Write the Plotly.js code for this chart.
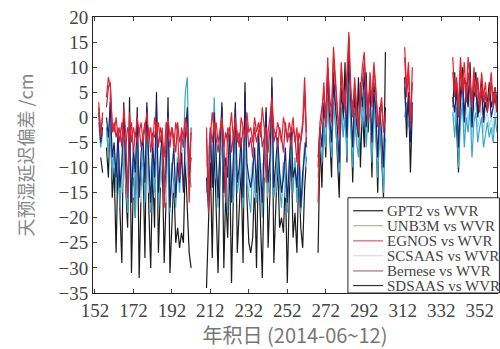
<!DOCTYPE html>
<html><head><meta charset="utf-8">
<script src="https://cdn.plot.ly/plotly-3.0.1.min.js"></script>
<style>html,body{margin:0;padding:0;background:#fff;}#c{width:500px;height:349px;}</style>
</head><body><div id="c"></div>
<script>
// Day of year sampling (null rows mark gaps in the record)
const days = [154,155,156,157,
158,159,160,161,162,163,164,165,166,167,168,169,170,171,172,173,174,175,176,177,178,179,180,
181,182,183,184,185,186,187,188,189,190,191,192,193,194,195,196,197,198,199,200,201,202,
203,204,205,206,207,208,209,
210,211,212,213,214,215,216,217,218,219,220,221,222,223,224,225,226,227,228,229,230,231,232,233,234,235,236,
237,238,239,240,241,242,243,244,245,246,247,248,249,250,251,252,253,254,255,256,257,258,259,260,261,262,
263,264,265,266,267,
268,269,270,271,272,273,274,275,276,277,278,279,280,281,282,283,284,285,286,287,288,289,290,291,292,293,294,
295,296,297,298,299,300,301,302,303,
304,305,306,307,308,309,310,311,312,
313,314,315,316,317,
318,319,320,321,322,323,324,325,326,327,328,329,330,331,332,333,334,335,336,337,
338,339,340,341,342,343,344,345,346,347,348,349,350,351,352,353,354,355,356,357,358,359,360,361];

const gpt2 = [null,-8,-11,null,
-6,-12,2,-16,-10,-27,-8,-18,-29,3,-14,-22,4,-31,-12,-20,2,-32,-15,-9,-28,3,-18,
-30,-10,-22,5,-27,-14,-8,-29,-16,4,-31,-20,-12,-25,-22,-26,-23,-25,-8,-18,-27,-30,
null,null,null,null,null,null,null,
-34,-20,-9,-28,-5,-18,-31,-12,2,-30,-15,-24,-8,-33,-14,3,-27,-19,-10,-29,7,-16,-25,-27,-24,-13,-30,
-8,-21,-32,-11,2,-26,-15,8,-29,-18,-9,-22,-20,-23,-12,-33,-16,-6,-24,-19,-27,-10,-22,-26,-14,-8,
null,null,null,null,null,
-27,-5,-14,2,-8,10,-3,-12,9,0,-6,-16,5,-2,11,-9,16,1,-13,3,-4,8,-10,2,-6,9,-3,
4,-12,7,0,-15,2,-8,-16,13,
null,null,null,null,null,null,null,null,null,
8,-4,5,-11,2,
null,null,null,null,null,null,null,null,null,null,null,null,null,null,null,null,null,null,null,null,
2,9,-2,-11,5,10,-1,7,3,11,-3,6,9,1,4,8,-1,5,3,7,2,4,6,3];

const unb3m = [-1,-6,-3,null,
-2,-8,5,-12,-6,-15,-4,-18,-10,-2,-13,-19,-5,-14,-8,-20,-3,-16,-11,-6,-17,-1,-12,
-19,-7,-15,-2,-18,-10,-5,-16,-13,-3,-19,-9,-14,-18,-8,-15,-4,-6,5,8,-10,-14,
null,null,null,null,null,null,null,
-15,-8,-2,-12,4,-10,-18,-7,-1,-16,-11,-19,-5,-14,-17,-3,-15,-12,-6,-18,2,-13,-16,-19,-9,-14,-17,
-4,-12,-20,-7,-2,-15,-11,3,-16,-13,-6,-14,-18,-9,-12,-19,-10,-3,-15,-8,-17,-11,-19,-14,-5,-9,
null,null,null,null,null,
-12,-5,-9,-1,-6,4,-3,-8,3,-2,-7,-11,2,-4,0,-8,6,-1,-10,1,-5,-8,3,-2,5,-6,0,
2,-9,4,-3,-12,-1,-6,-15,-4,
null,null,null,null,null,null,null,null,null,
0,3,-2,1,-1,
null,null,null,null,null,null,null,null,null,null,null,null,null,null,null,null,null,null,null,null,
1,-4,2,-10,-1,3,-6,0,-3,2,-8,-1,1,-5,-2,0,-6,-3,-1,-4,-2,-5,0,-3];

const egnos = [3,-4,1,null,
4,8,6,-1,-3,0,-4,-2,-6,2,-3,-16,1,-5,-2,-4,0,-3,-1,-5,-2,1,-4,
-2,-6,0,-3,-1,-5,-2,-18,-3,0,-4,-2,-6,-1,-3,-12,-2,-4,0,-3,-17,-2,
null,null,null,null,null,null,null,
-2,-19,-4,1,-3,-1,-5,-2,0,-4,-17,-2,-3,1,-5,-1,-3,-6,0,-2,-4,1,-3,-2,-5,0,-3,
-1,-4,2,-2,-13,-3,0,4,-2,-4,-1,-3,-5,0,-2,-4,-1,-3,0,-5,-2,-10,-4,-1,8,-3,
null,null,null,null,null,
-17,-3,0,7,-2,12,2,-1,14,8,3,-4,11,5,1,9,17,6,0,8,2,-3,5,10,13,4,-1,
9,3,11,6,-2,1,4,-2,0,
null,null,null,null,null,null,null,null,null,
14,6,11,-1,10,
null,null,null,null,null,null,null,null,null,null,null,null,null,null,null,null,null,null,null,null,
12,5,8,2,12,6,11,4,12,7,3,10,5,8,2,9,4,7,1,5,9,3,6,1];

const scsaas = [0,-4,-2,null,
-3,-6,2,-10,-7,-13,-5,-11,-15,-4,-9,-14,-6,-12,-16,-8,-5,-13,-17,-9,-11,-4,-15,
-10,-8,-16,-5,-12,-14,-7,-10,-17,-6,-13,-9,-15,-11,-7,-14,-10,-5,-8,-12,-6,-11,
null,null,null,null,null,null,null,
-10,-6,-4,-9,-2,-12,-14,-8,-3,-13,-10,-15,-6,-12,-16,-5,-11,-14,-7,-13,-3,-10,-15,-12,-8,-16,-11,
-6,-14,-9,-12,-4,-16,-10,-2,-13,-15,-7,-11,-14,-9,-16,-12,-8,-5,-13,-10,-15,-7,-12,-14,-6,-10,
null,null,null,null,null,
-6,-3,-7,0,-4,5,-1,-6,4,0,-5,-8,3,-2,1,-6,8,0,-7,2,-3,-6,4,-1,6,-4,1,
3,-7,5,-2,-9,0,-4,-12,-2,
null,null,null,null,null,null,null,null,null,
3,1,-1,-3,2,
null,null,null,null,null,null,null,null,null,null,null,null,null,null,null,null,null,null,null,null,
3,-1,4,-7,1,5,-3,2,-1,4,-4,1,3,-2,0,2,-3,0,1,-2,0,-3,2,-1];

const bernese = [2,-3,0,null,
2,6,7,-3,-1,-4,-2,-5,-1,-3,-6,-2,-4,-1,-7,-3,-5,-2,-6,-3,-1,-5,-2,
-7,-3,-4,-1,-6,-2,-4,-8,-1,-3,-6,-2,-4,-7,-1,-5,-3,-6,-2,-4,-9,-3,
null,null,null,null,null,null,null,
-4,-15,-2,-5,-1,-4,-7,-3,-1,-6,-3,-5,-2,-7,-4,0,-5,-3,-6,-2,-4,-1,-6,-4,-8,-2,-5,
-3,-1,-6,-4,-2,-7,-3,2,-5,-3,-6,-2,-4,-7,-1,-5,-3,-6,-2,-4,-9,-3,-5,-2,5,-6,
null,null,null,null,null,
-10,-1,2,5,0,10,4,1,12,6,1,-2,9,3,4,7,14,5,2,6,0,-1,3,8,11,6,1,
7,2,10,4,0,-1,3,-3,1,
null,null,null,null,null,null,null,null,null,
12,4,9,-2,7,
null,null,null,null,null,null,null,null,null,null,null,null,null,null,null,null,null,null,null,null,
9,4,7,0,10,5,8,3,9,6,2,8,4,7,1,6,3,5,2,4,7,2,5,2];

const sdsaas = [1,-5,-2,null,
0,-4,3,-8,-5,-12,-3,-14,-9,1,-10,-15,-2,-17,-6,-11,0,-16,-7,-4,-13,2,-9,
-17,-5,-12,3,-15,-8,-3,-14,-10,1,-18,-11,-6,-16,-9,-13,-7,-15,-4,2,-12,-8,
null,null,null,null,null,null,null,
-12,-18,-3,-14,1,-9,-16,-6,3,-15,-8,-12,-2,-17,-7,2,-13,-10,-4,-16,5,-9,-12,-14,-11,-6,-15,
-3,-10,-17,-5,1,-13,-8,6,-14,-9,-4,-11,-15,-12,-6,-17,-8,-2,-12,-10,-14,-5,-18,-11,-7,-4,
null,null,null,null,null,
-8,-2,-6,3,-1,8,0,-5,7,2,-2,-9,6,1,4,-4,12,3,-6,5,-1,-4,7,2,9,-2,3,
6,-5,5,1,-8,2,-3,-10,2,
null,null,null,null,null,null,null,null,null,
6,-1,4,-5,3,
null,null,null,null,null,null,null,null,null,null,null,null,null,null,null,null,null,null,null,null,
4,1,6,-6,3,7,-1,5,2,8,-2,4,6,0,3,5,-1,3,1,5,0,2,4,1];

const names = ['GPT2 vs WVR','UNB3M vs WVR','EGNOS vs WVR','SCSAAS vs WVR','Bernese vs WVR','SDSAAS vs WVR'];
const colors = ['#1a1a1a','#3aa6c8','#e8202c','#a6dcec','#b8284a','#1c2470'];
const legendColors = ['#222','#b8b49a','#d85a70','#d4dde0','#b06878','#333'];
const series = [gpt2, unb3m, egnos, scsaas, bernese, sdsaas];
// drawing order (bottom to top)
const order = [0,3,1,5,4,2];

const traces = order.map(i => ({
  x: days, y: series[i], type: 'scatter', mode: 'lines', name: names[i],
  line: {color: colors[i], width: 1.2}, connectgaps: false, showlegend: false
}));

const tickDays = [152,172,192,212,232,252,272,292,312,332,352];
const yTicks = [-35,-30,-25,-20,-15,-10,-5,0,5,10,15,20];

// legend box drawn in plot-area (paper) coordinates
const lgX0 = 0.631, lgX1 = 1.006, lgY0 = 0, lgY1 = 0.345;
const lgRowY = [0.298, 0.244, 0.189, 0.135, 0.080, 0.027];
const shapes = [{type: 'rect', xref: 'paper', yref: 'paper', x0: lgX0, x1: lgX1, y0: lgY0, y1: lgY1,
  fillcolor: '#fff', line: {color: '#222', width: 1}, layer: 'above'}];
const annotations = [];
names.forEach((n, i) => {
  shapes.push({type: 'line', xref: 'paper', yref: 'paper', x0: 0.644, x1: 0.718, y0: lgRowY[i], y1: lgRowY[i],
    line: {color: legendColors[i], width: 1.2}, layer: 'above'});
  annotations.push({xref: 'paper', yref: 'paper', x: 0.722, y: lgRowY[i], xanchor: 'left', yanchor: 'middle',
    text: n, showarrow: false, font: {family: 'Liberation Serif', size: 15, color: '#444'}});
});

const layout = {
  width: 500, height: 349,
  margin: {l: 93, r: 3, t: 17, b: 56},
  paper_bgcolor: '#fff', plot_bgcolor: '#fff',
  showlegend: false,
  shapes: shapes, annotations: annotations,
  xaxis: {range: [151, 361], tickvals: tickDays, ticks: 'inside', ticklen: 4, mirror: 'allticks',
    showline: true, linecolor: '#222', linewidth: 1, showgrid: false, zeroline: false,
    tickfont: {family: 'Liberation Serif', size: 19, color: '#444'},
    title: {text: '年积日 (2014-06~12)', font: {family: 'Noto Sans CJK SC, Liberation Serif', size: 20, color: '#777'}, standoff: 8}},
  yaxis: {range: [-35, 20], tickvals: yTicks, ticks: 'inside', ticklen: 4, mirror: 'allticks',
    showline: true, linecolor: '#222', linewidth: 1, showgrid: false, zeroline: false,
    tickfont: {family: 'Liberation Serif', size: 19, color: '#444'},
    title: {text: '天预湿延迟偏差 /cm', font: {family: 'Noto Sans CJK SC, Liberation Serif', size: 18, color: '#888'}, standoff: 20}}
};

Plotly.newPlot('c', traces, layout, {displayModeBar: false, staticPlot: true});
</script></body></html>
